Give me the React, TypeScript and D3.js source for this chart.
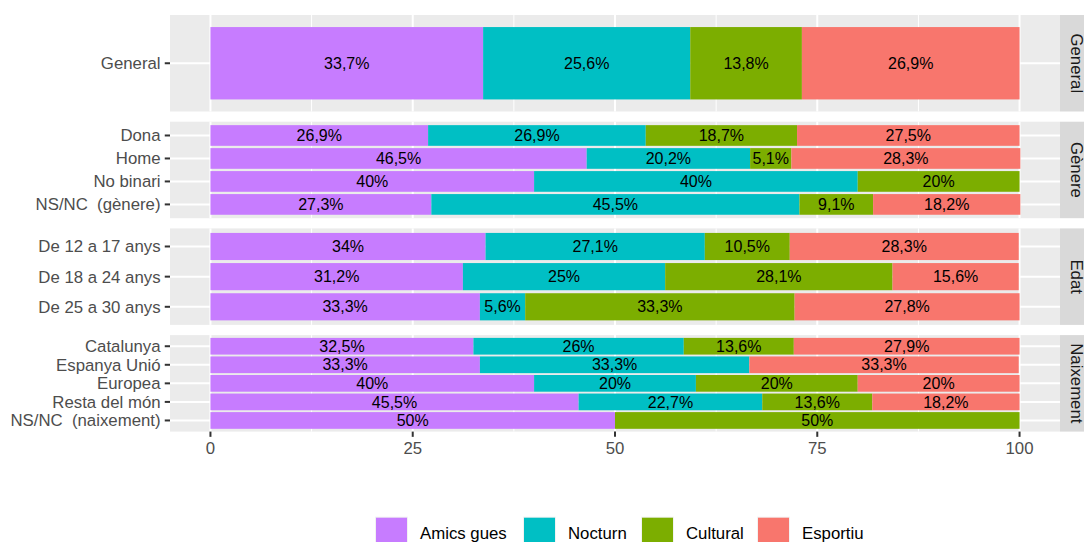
import React from "react";
import * as d3 from "d3";

const series = ["Amics gues", "Nocturn", "Cultural", "Esportiu"];
const seriesColors = ["#C77CFF", "#00BFC4", "#7CAE00", "#F8766D"];
const facets = ["General", "Gènere", "Edat", "Naixement"];
const categories = [
  "General",
  "Dona", "Home", "No binari", "NS/NC  (gènere)",
  "De 12 a 17 anys", "De 18 a 24 anys", "De 25 a 30 anys",
  "Catalunya", "Espanya Unió", "Europea", "Resta del món", "NS/NC  (naixement)",
];
const categoryFacet = [
  "General",
  "Gènere", "Gènere", "Gènere", "Gènere",
  "Edat", "Edat", "Edat",
  "Naixement", "Naixement", "Naixement", "Naixement", "Naixement",
];
const amicsGues = [33.7, 26.9, 46.5, 40, 27.3, 34, 31.2, 33.3, 32.5, 33.3, 40, 45.5, 50];
const nocturn = [25.6, 26.9, 20.2, 40, 45.5, 27.1, 25, 5.6, 26, 33.3, 20, 22.7, 0];
const cultural = [13.8, 18.7, 5.1, 20, 9.1, 10.5, 28.1, 33.3, 13.6, 0, 20, 13.6, 50];
const esportiu = [26.9, 27.5, 28.3, 0, 18.2, 28.3, 15.6, 27.8, 27.9, 33.3, 20, 18.2, 0];
const xTicks = [0, 25, 50, 75, 100];
const xMinor = [12.5, 37.5, 62.5, 87.5];

const W = 1084;
const H = 542;
const panelLeft = 170;
const panelRight = 1060;
const panelTop0 = 15;
const panelH = 96.5;
const panelGap = 10.2;
const stripW = 33;
const FONT = "'Liberation Sans', Arial, Helvetica, sans-serif";
const axisFont = 16.8;
const labelFont = 16;

const fmt = (v: number) => String(v).replace(".", ",") + "%";

export default function App() {
  const table = categories.map((c, i) => ({
    cat: c,
    facet: categoryFacet[i],
    "Amics gues": amicsGues[i],
    Nocturn: nocturn[i],
    Cultural: cultural[i],
    Esportiu: esportiu[i],
  }));
  const stacked = d3.stack<any>().keys(series)(table);

  const x = d3
    .scaleLinear()
    .domain([-5, 105])
    .range([panelLeft, panelRight]);

  const color = d3.scaleOrdinal<string, string>().domain(series).range(seriesColors);

  const panels = facets.map((f, pi) => {
    const top = panelTop0 + pi * (panelH + panelGap);
    const cats = categories.filter((_, i) => categoryFacet[i] === f);
    const y = d3
      .scaleBand<string>()
      .domain(cats)
      .range([top, top + panelH])
      .paddingInner(0.1)
      .paddingOuter(0.15);
    return { f, top, cats, y };
  });
  const panelOf = (f: string) => panels.find((p) => p.f === f)!;
  const bottom = panels[panels.length - 1].top + panelH;

  const legendKeyX = [375, 523, 641, 757];
  const legendTop = 516.7;
  const keySize = 33;

  return (
    <svg
      width={W}
      height={H}
      style={{ position: "absolute", left: 0, top: 0, background: "#fff" }}
      fontFamily={FONT}
    >
      {panels.map((p) => (
        <g key={p.f}>
          <rect x={panelLeft} y={p.top} width={panelRight - panelLeft} height={panelH} fill="#EBEBEB" />
          {xMinor.map((t) => (
            <line key={"mn" + t} x1={x(t)} x2={x(t)} y1={p.top} y2={p.top + panelH} stroke="#fff" strokeWidth={1} />
          ))}
          {xTicks.map((t) => (
            <line key={"mj" + t} x1={x(t)} x2={x(t)} y1={p.top} y2={p.top + panelH} stroke="#fff" strokeWidth={2} />
          ))}
          {p.cats.map((c) => {
            const cy = p.y(c)! + p.y.bandwidth() / 2;
            return (
              <g key={c}>
                <line x1={panelLeft} x2={panelRight} y1={cy} y2={cy} stroke="#fff" strokeWidth={2} />
                <line x1={panelLeft - 5.25} x2={panelLeft} y1={cy} y2={cy} stroke="#333333" strokeWidth={2} />
                <text
                  x={panelLeft - 5.25 - 4.2}
                  y={cy}
                  dy="0.35em"
                  textAnchor="end"
                  fontSize={axisFont}
                  fill="#4D4D4D"
                  style={{ whiteSpace: "pre" }}
                >
                  {c}
                </text>
              </g>
            );
          })}
          <rect x={panelRight} y={p.top} width={stripW} height={panelH} fill="#D9D9D9" />
          <text
            transform={`translate(${panelRight + stripW / 2},${p.top + panelH / 2}) rotate(90)`}
            textAnchor="middle"
            dy="0.35em"
            fontSize={axisFont}
            fill="#1A1A1A"
          >
            {p.f}
          </text>
        </g>
      ))}

      {stacked.map((s) => (
        <g key={s.key} fill={color(s.key)}>
          {s.map((d, i) => {
            const p = panelOf(d.data.facet);
            const w = x(d[1]) - x(d[0]);
            if (w <= 0) return null;
            return (
              <rect
                key={i}
                x={x(d[0])}
                y={p.y(d.data.cat)}
                width={w}
                height={p.y.bandwidth()}
              />
            );
          })}
        </g>
      ))}

      {stacked.map((s) => (
        <g key={"lbl" + s.key}>
          {s.map((d, i) => {
            const v = d[1] - d[0];
            if (v <= 0) return null;
            const p = panelOf(d.data.facet);
            const cy = p.y(d.data.cat)! + p.y.bandwidth() / 2;
            return (
              <text
                key={i}
                x={x((d[0] + d[1]) / 2)}
                y={cy}
                dy="0.35em"
                textAnchor="middle"
                fontSize={labelFont}
                fill="#000"
              >
                {fmt((d.data as any)[s.key])}
              </text>
            );
          })}
        </g>
      ))}

      {xTicks.map((t) => (
        <g key={"xt" + t}>
          <line x1={x(t)} x2={x(t)} y1={bottom} y2={bottom + 5.25} stroke="#333333" strokeWidth={2} />
          <text x={x(t)} y={bottom + 5.25 + 4.2} dy="0.76em" textAnchor="middle" fontSize={axisFont} fill="#4D4D4D">
            {t}
          </text>
        </g>
      ))}

      {series.map((s, i) => (
        <g key={"lg" + s}>
          <rect x={legendKeyX[i]} y={legendTop} width={keySize} height={keySize} fill="#F2F2F2" />
          <rect x={legendKeyX[i] + 1} y={legendTop + 1} width={keySize - 2} height={keySize - 2} fill={color(s)} />
          <text
            x={legendKeyX[i] + keySize + 12}
            y={legendTop + keySize / 2}
            dy="0.35em"
            fontSize={axisFont}
            fill="#000"
          >
            {s}
          </text>
        </g>
      ))}
    </svg>
  );
}
